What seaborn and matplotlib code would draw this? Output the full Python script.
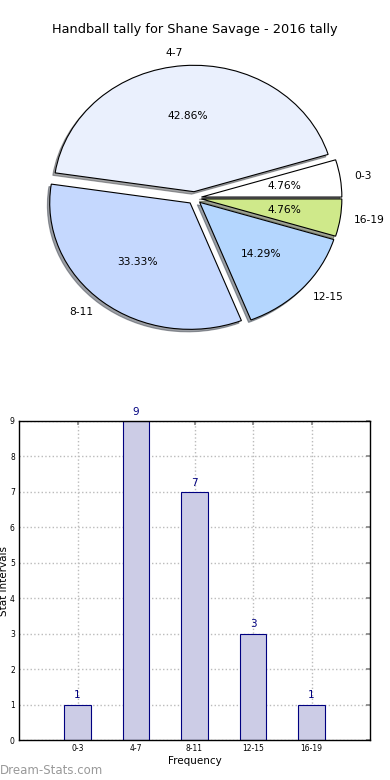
import matplotlib
matplotlib.use("Agg")
import matplotlib.pyplot as plt
import seaborn as sns
import pandas as pd

categories = ["0-3", "4-7", "8-11", "12-15", "16-19"]
counts = [1, 9, 7, 3, 1]
pie_colors = ["#ffffff", "#eaf0fd", "#c5d8fe", "#b4d6fe", "#cfe98a"]
title = "Handball tally for Shane Savage - 2016 tally"

sns.set_theme(style="white")
plt.rcParams["font.family"] = ["DejaVu Sans"]
plt.rcParams["text.color"] = "black"
plt.rcParams["axes.labelcolor"] = "black"
plt.rcParams["xtick.color"] = "black"
plt.rcParams["ytick.color"] = "black"

fig = plt.figure(figsize=(3.9, 7.8), dpi=100)

# Pie
ax1 = fig.add_axes([19/390, (780-356)/780, 351/390, 316/780])
wedges, texts, autotexts = ax1.pie(
    counts, labels=categories, colors=pie_colors, explode=[0.05]*5,
    autopct="%1.2f%%", shadow={"ox": -0.012, "oy": -0.014, "shade": 0.7},
    startangle=0,
    wedgeprops={"linewidth": 0.8, "edgecolor": "black"},
    textprops={"fontsize": 7.7, "color": "black"})
ax1.set_aspect("auto")
ax1.set_xlim(-1.25, 1.25)
ax1.set_ylim(-1.25, 1.25)
fig.text(0.5, 1 - 30/780, title, ha="center", va="center", fontsize=9.3)

# Bars
ax2 = fig.add_axes([19/390, 40/780, 351/390, 319/780])
df = pd.DataFrame({"cat": categories, "count": counts})
sns.barplot(data=df, x="cat", y="count", ax=ax2, color="#ccccE6",
            saturation=1, width=0.45, edgecolor="navy", linewidth=0.8, zorder=2)
for i, v in enumerate(counts):
    ax2.text(i, v + 0.12, str(v), ha="center", va="bottom", color="navy", fontsize=7.5)
ax2.set_xlim(-1, 5)
ax2.set_ylim(0, 9)
ax2.set_yticks(range(0, 10))
ax2.grid(True, linestyle=":", color="#bbbbbb", linewidth=1, zorder=0)
ax2.set_axisbelow(True)
for s in ax2.spines.values():
    s.set_color("black")
    s.set_linewidth(1)
    s.set_visible(True)
ax2.tick_params(axis="both", labelsize=5.5, direction="in", length=3,
                color="#888888", top=True, right=True, pad=3)
ax2.set_xlabel("Frequency", fontsize=7.5, labelpad=2)
ax2.set_ylabel("Stat Intervals", fontsize=7.5, labelpad=1)

fig.text(0, 1 - 771/780, "Dream-Stats.com", ha="left", va="center",
         fontsize=8.5, color="#999999")

fig.savefig("out.png", dpi=100)
